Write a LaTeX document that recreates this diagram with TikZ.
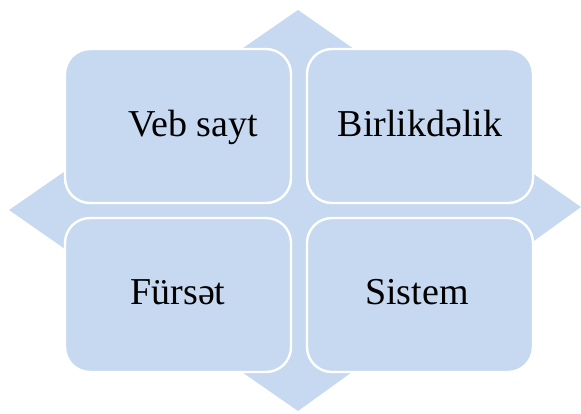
\documentclass[tikz,border=0pt]{standalone}
\usepackage{fontspec}
\setmainfont{Liberation Serif}
\definecolor{paleblue}{HTML}{C6D9F1}
\begin{document}
\begin{tikzpicture}[x=1pt,y=-1pt,
        box/.style={draw=white,line width=2.4pt,fill=paleblue,rounded corners=25pt,
                    minimum width=226pt,minimum height=154pt,inner sep=0pt},
        word/.style={anchor=base,inner sep=0pt,font=\fontsize{38}{45}\selectfont}]
        \useasboundingbox (0,0) rectangle (581,413);
        % diamond behind the matrix
        \fill[paleblue] (298,10)--(581,207)--(298,411)--(9,210)--cycle;

        \node[box] (web) at (178,126) {};
        \node[box] (unity) at (420,126) {};
        \node[box] (chance) at (178,295) {};
        \node[box] (system) at (420,295) {};

        \node[word] (webtext) at (193,136) {Veb sayt};
        \node[word] (unitytext) at (420,136) {Birlikdəlik};
        \node[word] (chancetext) at (178,304) {Fürsət};
        \node[word] (systemtext) at (417,304) {Sistem};
\end{tikzpicture}
\end{document}
